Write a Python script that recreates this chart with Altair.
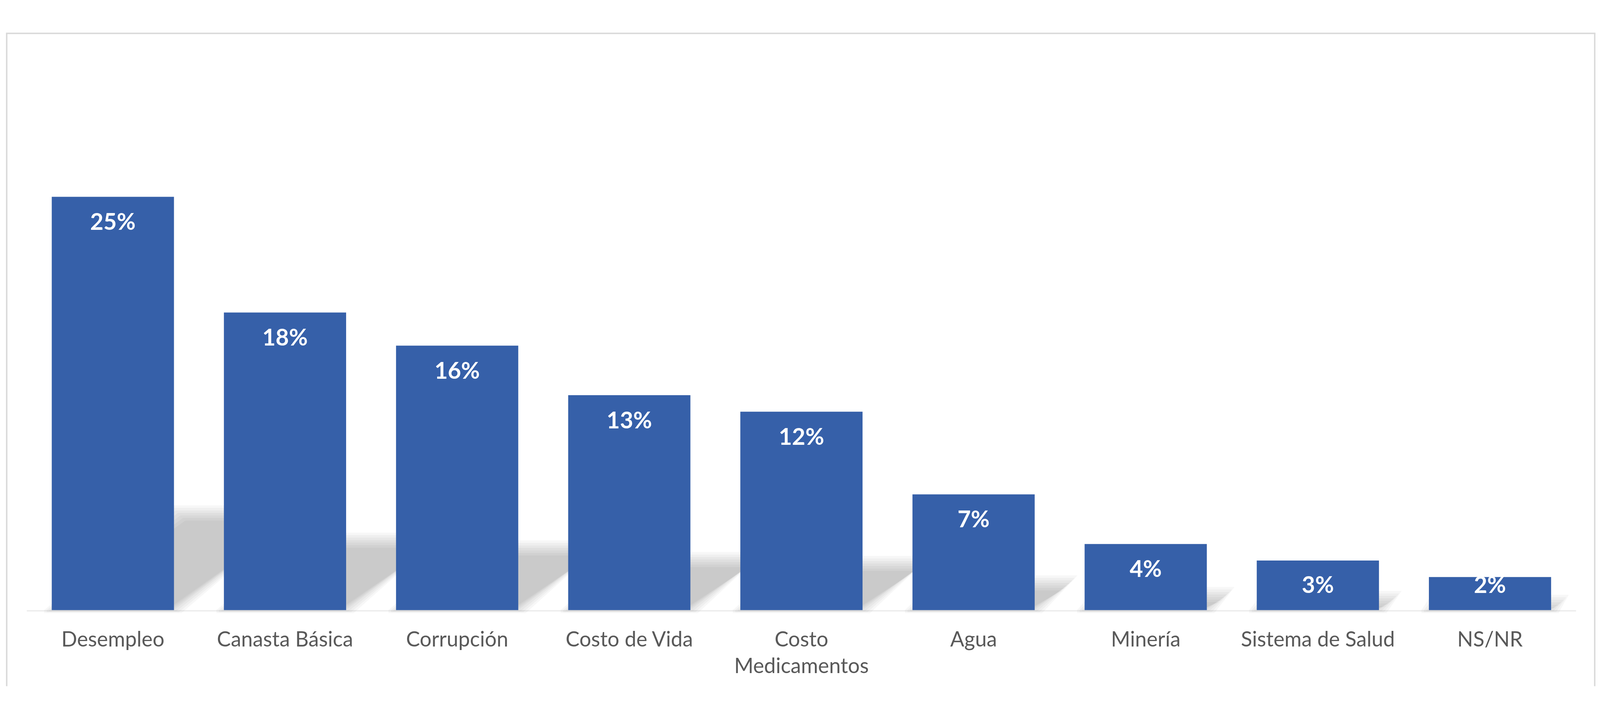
import altair as alt
import pandas as pd

# ---- data ----
categories = ["Desempleo", "Canasta Básica", "Corrupción", "Costo de Vida",
              "Costo Medicamentos", "Agua", "Minería", "Sistema de Salud", "NS/NR"]
values = [0.25, 0.18, 0.16, 0.13, 0.12, 0.07, 0.04, 0.03, 0.02]
# how each category label wraps (Excel wrapped the long one onto two lines)
tick_labels = ["Desempleo", "Canasta Básica", "Corrupción", "Costo de Vida",
               "Costo\nMedicamentos", "Agua", "Minería", "Sistema de Salud", "NS/NR"]

df = pd.DataFrame({"categoria": categories, "valor": values,
                   "etiqueta": tick_labels, "idx": list(range(len(categories)))})

# ---- perspective shadow (derived from values) ----
PX_STEP = 480.0      # pixels per category step
PX_UNIT = 4607.0     # pixels per 1.0 of value
HALF = 0.355         # half bar width in category-index units
SH_K = 0.235         # shadow height relative to bar
SH_SHIFT = 2.93      # shadow horizontal shift (index units per unit value)
blur_steps = [-21, -14, -7, 0, 7, 14, 21]

rows = []
for i, (c, v) in enumerate(zip(categories, values)):
    for j, e in enumerate(blur_steps):
        ex = e / PX_STEP
        ey = e / PX_UNIT
        L = i - HALF - ex
        R = i + HALF + ex
        H = SH_K * v + ey
        S = SH_SHIFT * v
        floor = -max(ey, 0) * 0.4
        xs = sorted([L, min(R, L + S), max(R, L + S), R + S])
        for x in xs:
            lo = min(max((x - R) * H / S, 0), H)
            hi = min(max((x - L) * H / S, 0), H)
            if lo <= 0:
                lo = floor
            rows.append({"grp": f"{c}-{j}", "sx": x, "lo": lo, "hi": hi})
shadow_df = pd.DataFrame(rows)

y_scale = alt.Scale(domain=[0, 0.30], nice=False, zero=True)
x_scale = alt.Scale(domain=[-0.5, len(categories) - 0.5], nice=False, zero=False)

one = pd.DataFrame({"f": [0]})
FRAME = dict(stroke="#d9d9d9", strokeWidth=4)
frame_left = alt.Chart(one).mark_rule(**FRAME).encode(
    x=alt.value(-56), y=alt.value(-225), y2=alt.value(1594))
frame_top = alt.Chart(one).mark_rule(**FRAME).encode(
    x=alt.value(-58), x2=alt.value(4374), y=alt.value(-225))
frame_right = alt.Chart(one).mark_rule(**FRAME).encode(
    x=alt.value(4372), y=alt.value(-225), y2=alt.value(1594))

baseline_rule = alt.Chart(one).mark_rule(stroke="#ededed", strokeWidth=4).encode(
    x=alt.value(0), x2=alt.value(4320), y=alt.value(1384))

shadow = alt.Chart(shadow_df).mark_area(
    color="black", opacity=0.032, orient="vertical", interpolate="linear"
).encode(
    x=alt.X("sx:Q", scale=x_scale, axis=None),
    y=alt.Y("lo:Q", scale=y_scale, axis=None, stack=None),
    y2="hi:Q",
    detail="grp:N",
)

bars = alt.Chart(df).mark_rect(color="#3660A9").transform_calculate(
    x1=f"datum.idx - {HALF}", x2=f"datum.idx + {HALF}"
).encode(
    x=alt.X("x1:Q", scale=x_scale, axis=None),
    x2="x2:Q",
    y=alt.Y("valor:Q", scale=y_scale, axis=None),
    y2=alt.datum(0),
)

values_text = alt.Chart(df).mark_text(
    font="Lato", fontWeight="bold", fontSize=64, color="white",
    baseline="alphabetic", align="center"
).transform_calculate(
    pos="max(datum.valor - 0.02, 0.0104)"
).encode(
    x=alt.X("idx:Q", scale=x_scale, axis=None),
    y=alt.Y("pos:Q", scale=y_scale, axis=None),
    text=alt.Text("valor:Q", format=".0%"),
)

cat_text = alt.Chart(df).mark_text(
    font="Lato", fontSize=58, color="#595959", baseline="alphabetic",
    align="center", lineBreak="\n", lineHeight=75
).encode(
    x=alt.X("idx:Q", scale=x_scale, axis=None),
    y=alt.value(1483),
    text="etiqueta:N",
)

chart = alt.layer(
    frame_left, frame_top, frame_right, baseline_rule, shadow, bars, values_text, cat_text
).properties(
    width=4320, height=1382,
    padding={"left": 6, "top": 1, "right": 2, "bottom": 0},
    background="white",
).configure_view(strokeWidth=0)

chart.save("out.html", embed_options={"renderer": "svg", "actions": False})
